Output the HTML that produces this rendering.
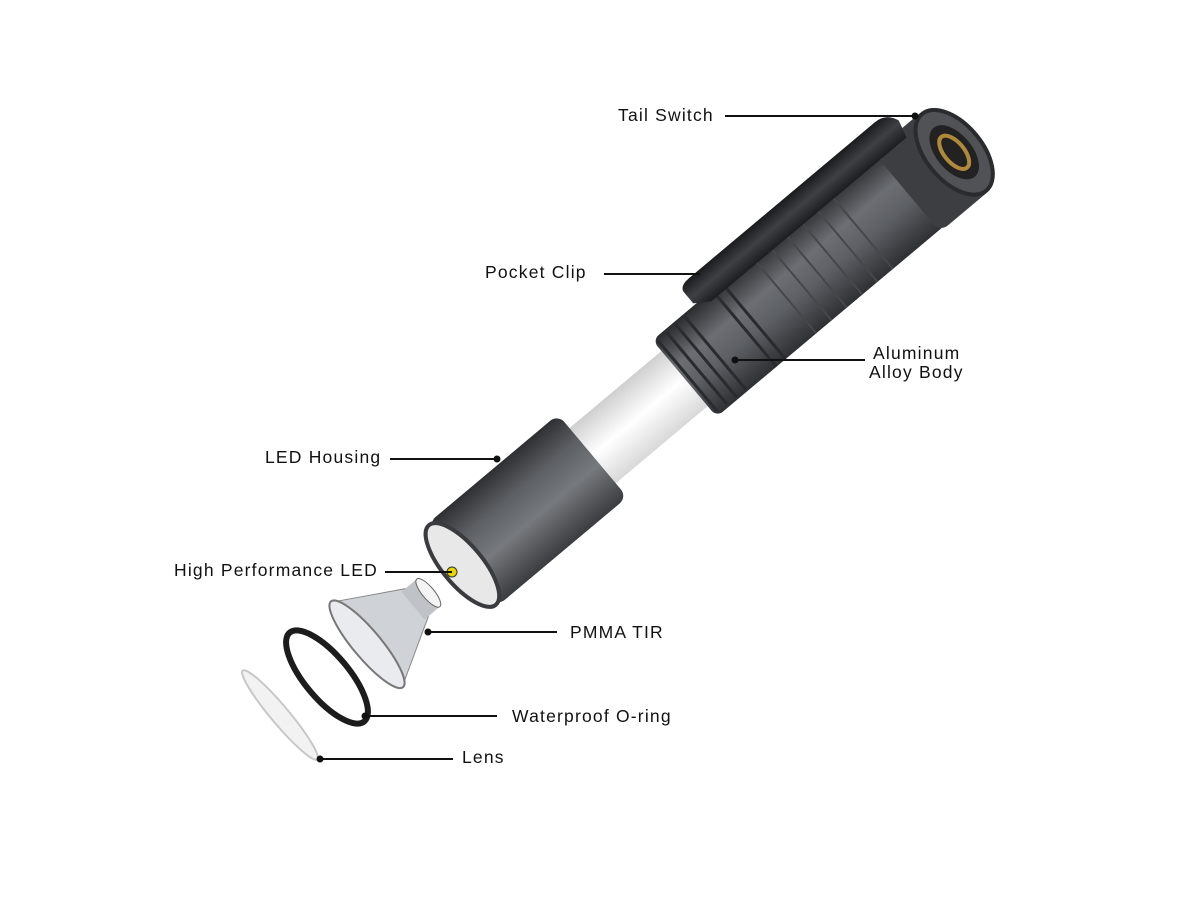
<!DOCTYPE html>
<html><head><meta charset="utf-8"><style>
html,body{margin:0;padding:0;background:#fff;}
svg{display:block}
text{font-family:"Liberation Sans",sans-serif;font-size:17.5px;letter-spacing:1.2px;fill:#111;}
</style></head><body>
<svg width="1200" height="900" viewBox="0 0 1200 900" xmlns="http://www.w3.org/2000/svg">
<defs>
<linearGradient id="body" x1="0" y1="0" x2="0" y2="1">
<stop offset="0" stop-color="#2e3033"/><stop offset="0.4" stop-color="#5d6065"/><stop offset="0.65" stop-color="#6b6e73"/><stop offset="1" stop-color="#2a2b2e"/></linearGradient>
<linearGradient id="house" x1="0" y1="0" x2="0" y2="1">
<stop offset="0" stop-color="#3a3c3f"/><stop offset="0.4" stop-color="#76797d"/><stop offset="0.7" stop-color="#5c5f63"/><stop offset="1" stop-color="#2e2f32"/></linearGradient>
<linearGradient id="tube" x1="0" y1="0" x2="0" y2="1">
<stop offset="0" stop-color="#d8d8d8"/><stop offset="0.5" stop-color="#ffffff"/><stop offset="1" stop-color="#cfcfcf"/></linearGradient>
<linearGradient id="clip" x1="0" y1="0" x2="0" y2="1">
<stop offset="0" stop-color="#1c1d1f"/><stop offset="0.5" stop-color="#3e4044"/><stop offset="1" stop-color="#1a1b1d"/></linearGradient>
</defs>

<g transform="translate(945,160) rotate(140)">
  <rect x="340" y="-36" width="140" height="72" fill="url(#tube)"/>
  <rect x="40" y="-50" width="300" height="100" rx="8" fill="url(#body)"/>
  <g stroke="#2a2b2e" stroke-width="3">
    <line x1="300" y1="-48" x2="300" y2="48"/><line x1="312" y1="-48" x2="312" y2="48"/>
    <line x1="324" y1="-47" x2="324" y2="47"/><line x1="336" y1="-46" x2="336" y2="46"/>
    <line x1="250" y1="-50" x2="250" y2="50"/><line x1="262" y1="-50" x2="262" y2="50"/>
  </g>
  <g stroke="#45474b" stroke-width="2">
    <line x1="110" y1="-50" x2="110" y2="50"/><line x1="130" y1="-50" x2="130" y2="50"/>
    <line x1="150" y1="-50" x2="150" y2="50"/><line x1="170" y1="-50" x2="170" y2="50"/>
    <line x1="190" y1="-50" x2="190" y2="50"/><line x1="210" y1="-50" x2="210" y2="50"/>
  </g>
  <rect x="-20" y="-52" width="70" height="104" rx="10" fill="#3c3e41"/>
  <ellipse cx="-12" cy="0" rx="28" ry="50" fill="#505256" stroke="#2a2b2d" stroke-width="4"/>
  <ellipse cx="-12" cy="0" rx="18" ry="32" fill="#222"/>
  <ellipse cx="-12" cy="0" rx="10" ry="20" fill="none" stroke="#b08a3a" stroke-width="4"/>
  <path d="M15,42 L270,42 L285,52 L285,66 Q285,74 272,74 L30,74 Q15,74 10,60 Z" fill="url(#clip)"/>
  <rect x="460" y="-54" width="170" height="108" rx="10" fill="url(#house)"/>
  <ellipse cx="630" cy="0" rx="20" ry="52" fill="#e8e8e8" stroke="#3a3b3e" stroke-width="4"/>
</g>
<circle cx="452" cy="572" r="5" fill="#e8d500" stroke="#333" stroke-width="1"/>
<g transform="translate(390,625) rotate(140)">
  <path d="M-35,-18 L30,-55 L30,55 L-35,18 Z" fill="#cfd2d6" stroke="#888" stroke-width="1"/>
  <ellipse cx="30" cy="0" rx="14" ry="56" fill="#e9ebee" stroke="#777" stroke-width="2"/>
  <rect x="-50" y="-18" width="20" height="36" fill="#bfc2c6"/>
  <ellipse cx="-50" cy="0" rx="6" ry="18" fill="#f4f4f4" stroke="#666"/>
</g>
<ellipse cx="327" cy="677" rx="22" ry="58" transform="rotate(-40 327 677)" fill="none" stroke="#1c1c1c" stroke-width="6"/>
<ellipse cx="280" cy="715" rx="9" ry="58" transform="rotate(-40 280 715)" fill="#f2f2f2" stroke="#c8c8c8" stroke-width="2"/>

<g stroke="#111" stroke-width="2">
<line x1="725" y1="116" x2="915" y2="116"/>
<line x1="604" y1="274" x2="700" y2="274"/>
<line x1="735" y1="360" x2="865" y2="360"/>
<line x1="390" y1="459" x2="497" y2="459"/>
<line x1="385" y1="572" x2="452" y2="572"/>
<line x1="428" y1="632" x2="557" y2="632"/>
<line x1="365" y1="716" x2="497" y2="716"/>
<line x1="320" y1="759" x2="453" y2="759"/>
</g>
<g fill="#111">
<circle cx="915" cy="116" r="3.5"/><circle cx="735" cy="360" r="3.5"/><circle cx="497" cy="459" r="3.5"/>
<circle cx="428" cy="632" r="3.5"/><circle cx="365" cy="716" r="3.5"/><circle cx="320" cy="759" r="3.5"/>
</g>
<text x="618" y="121">Tail Switch</text>
<text x="485" y="278">Pocket Clip</text>
<text x="873" y="359">Aluminum</text>
<text x="869" y="378">Alloy Body</text>
<text x="265" y="463">LED Housing</text>
<text x="174" y="576">High Performance LED</text>
<text x="570" y="638">PMMA TIR</text>
<text x="512" y="722">Waterproof O-ring</text>
<text x="462" y="763">Lens</text>
</svg>
</body></html>
